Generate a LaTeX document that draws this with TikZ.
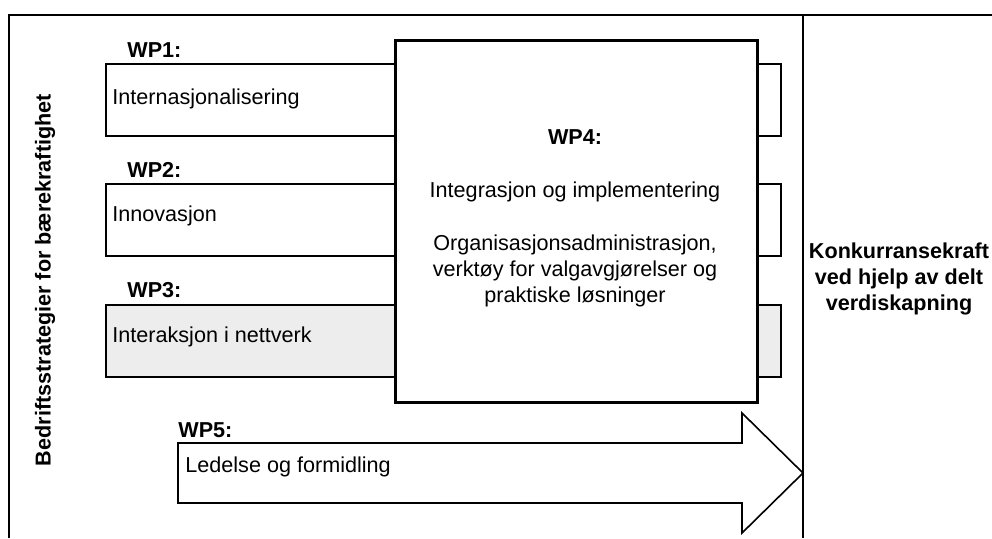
\documentclass[tikz,border=0pt]{standalone}
\usepackage{fontspec}
\setmainfont{Liberation Sans}
\begin{document}
\begin{tikzpicture}[x=0.5pt,y=-0.5pt,
  every node/.style={font=\fontsize{10.8}{13}\selectfont, inner sep=0pt},
  wpbox/.style={draw=black, line width=1pt, fill=white, anchor=north west,
    minimum width=337.5pt, minimum height=36pt},
  wplabel/.style={font=\fontsize{10.8}{13}\selectfont\bfseries, anchor=west},
  wptext/.style={anchor=west},
  frame/.style={draw=black, line width=1pt},
  bigbox/.style={draw=black, line width=1.6pt, fill=white, anchor=north west,
    minimum width=181pt, minimum height=181pt},
  arrowshape/.style={draw=black, line width=0.8pt, fill=white, line join=miter}
]
\useasboundingbox (0,0) rectangle (992,538);

% frame and divider
\coordinate (fbl) at (9,538);
\coordinate (ftl) at (9,15);
\coordinate (ftr) at (992,15);
\coordinate (dtop) at (803,15);
\coordinate (dbot) at (803,538);
\draw[frame] (fbl) -- (ftl) -- (ftr);
\draw[frame] (dtop) -- (dbot);

% work package bars
\node[wpbox] (wp1) at (105,63) {};
\node[wpbox] (wp2) at (105,183) {};
\node[wpbox, fill=black!7] (wp3) at (105,304) {};

\node[wplabel] (l1) at (127,50) {WP1:};
\node[wplabel] (l2) at (127,170) {WP2:};
\node[wplabel] (l3) at (127,290) {WP3:};

\node[wptext] (t1) at (112,99) {Internasjonalisering};
\node[wptext] (t2) at (112,216) {Innovasjon};
\node[wptext] (t3) at (112,337) {Interaksjon i nettverk};

% integration box
\node[bigbox] (wp4) at (394,39) {};
\node[align=center] (t4) at (575,218) {\textbf{WP4:}\\[13.5pt]Integrasjon og implementering\\[13.5pt]Organisasjonsadministrasjon,\\verktøy for valgavgjørelser og\\praktiske løsninger};

% management arrow
\draw[arrowshape] (178,443) -- (742,443) -- (742,413) -- (803,473) -- (742,533) -- (742,503) -- (178,503) -- cycle;
\node[wplabel] (l5) at (178,430) {WP5:};
\node[wptext] (t5) at (185,467) {Ledelse og formidling};

% side texts
\node[font=\fontsize{10.8}{13}\selectfont\bfseries, rotate=90] (left) at (45,280) {Bedriftsstrategier for bærekraftighet};
\node[font=\fontsize{10.8}{13}\selectfont\bfseries, align=center] (right) at (899,279) {Konkurransekraft\\ved hjelp av delt\\verdiskapning};
\end{tikzpicture}
\end{document}
